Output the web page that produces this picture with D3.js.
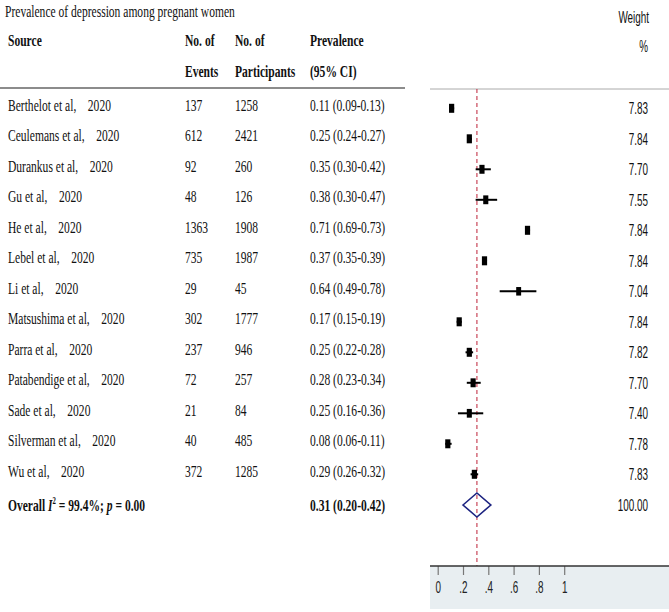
<!DOCTYPE html>
<html>
<head>
<meta charset="utf-8">
<script src="https://cdn.jsdelivr.net/npm/d3@7"></script>
<style>
  html, body { margin: 0; padding: 0; background: #fff; }
  svg { display: block; }
</style>
</head>
<body>
<svg id="chart" width="669" height="612"></svg>
<script>
// ---------------- data ----------------
const sources = ["Berthelot et al,", "Ceulemans et al,", "Durankus et al,", "Gu et al,", "He et al,", "Lebel et al,", "Li et al,", "Matsushima et al,", "Parra et al,", "Patabendige et al,", "Sade et al,", "Silverman et al,", "Wu et al,"];
const years = ["2020", "2020", "2020", "2020", "2020", "2020", "2020", "2020", "2020", "2020", "2020", "2020", "2020"];
const events = [137, 612, 92, 48, 1363, 735, 29, 302, 237, 72, 21, 40, 372];
const participants = [1258, 2421, 260, 126, 1908, 1987, 45, 1777, 946, 257, 84, 485, 1285];
const prevalence = [0.11, 0.25, 0.35, 0.38, 0.71, 0.37, 0.64, 0.17, 0.25, 0.28, 0.25, 0.08, 0.29];
const ciLow = [0.09, 0.24, 0.30, 0.30, 0.69, 0.35, 0.49, 0.15, 0.22, 0.23, 0.16, 0.06, 0.26];
const ciHigh = [0.13, 0.27, 0.42, 0.47, 0.73, 0.39, 0.78, 0.19, 0.28, 0.34, 0.36, 0.11, 0.32];
const weights = ["7.83", "7.84", "7.70", "7.55", "7.84", "7.84", "7.04", "7.84", "7.82", "7.70", "7.40", "7.78", "7.83"];
const overall = [0.31, 0.20, 0.42];
const overallWeight = "100.00";
const tickValues = [0, 0.2, 0.4, 0.6, 0.8, 1];
const tickLabels = ["0", ".2", ".4", ".6", ".8", "1"];

// ---------------- layout ----------------
const svg = d3.select("#chart");
const SERIF = "'Liberation Serif', 'Times New Roman', serif";
const SANS = "'Liberation Sans', Arial, sans-serif";
const SX_SERIF = 0.68, SX_SANS = 0.6;

const x = d3.scaleLinear().domain([0, 1]).range([437.7, 564.2]);
const y = d3.scaleLinear().domain([0, sources.length - 1]).range([108.3, 474.3]);
const yOverall = 505;
const plotTop = 89, axisY = 566;

function txt(parent, px, py, str, o = {}) {
  const t = parent.append("text")
    .attr("transform", `translate(${px},${py}) scale(${o.sx || SX_SERIF},1)`)
    .attr("font-family", o.font || SERIF)
    .attr("font-size", o.size || 17)
    .attr("font-weight", o.bold ? "bold" : "normal")
    .attr("text-anchor", o.anchor || "start")
    .attr("fill", o.fill || "#111");
  if (str !== null) t.text(str);
  return t;
}

// grey axis panel
svg.append("rect").attr("x", 430).attr("y", axisY).attr("width", 239).attr("height", 43).attr("fill", "#e8eef1");

// top rules
svg.append("line").attr("x1", 0).attr("x2", 405).attr("y1", 88).attr("y2", 88).attr("stroke", "#666").attr("stroke-width", 1.4);
svg.append("line").attr("x1", 430).attr("x2", 669).attr("y1", plotTop).attr("y2", plotTop).attr("stroke", "#aaa").attr("stroke-width", 1);

// header texts
txt(svg, 5, 17, "Prevalence of depression among pregnant women");
txt(svg, 8, 46, "Source", { bold: true });
txt(svg, 185, 46, "No. of", { bold: true });
txt(svg, 235, 46, "No. of", { bold: true });
txt(svg, 310, 46, "Prevalence", { bold: true });
txt(svg, 185, 77, "Events", { bold: true });
txt(svg, 235, 77, "Participants", { bold: true });
txt(svg, 310, 77, "(95% CI)", { bold: true });
txt(svg, 649, 23, "Weight", { font: SANS, sx: SX_SANS, anchor: "end", size: 16.5 });
txt(svg, 648, 51.5, "%", { font: SANS, sx: SX_SANS, anchor: "end", size: 16.5 });

// table rows
const fmt2 = d3.format(".2f");
sources.forEach((s, i) => {
  const by = y(i) + 2.6;
  const t = txt(svg, 8, by, s);
  t.append("tspan").attr("dx", 17).text(years[i]);
  txt(svg, 185, by, String(events[i]));
  txt(svg, 235, by, String(participants[i]));
  txt(svg, 310, by, `${fmt2(prevalence[i])} (${fmt2(ciLow[i])}-${fmt2(ciHigh[i])})`);
  txt(svg, 648, y(i) + 6, weights[i], { font: SANS, sx: SX_SANS, anchor: "end", size: 16.5 });
});

// overall row
const ov = txt(svg, 8, yOverall + 5.5, null, { bold: true });
ov.append("tspan").text("Overall ");
ov.append("tspan").attr("font-style", "italic").text("I");
ov.append("tspan").attr("font-size", 10).attr("dy", -7).text("2");
ov.append("tspan").attr("dy", 7).text(" = 99.4%; ");
ov.append("tspan").attr("font-style", "italic").text("p");
ov.append("tspan").text(" = 0.00");
txt(svg, 310, yOverall + 5.5, `${fmt2(overall[0])} (${fmt2(overall[1])}-${fmt2(overall[2])})`, { bold: true });
txt(svg, 648, yOverall + 6, overallWeight, { font: SANS, sx: SX_SANS, anchor: "end", size: 16.5 });

// overall dashed line
svg.append("line")
  .attr("x1", x(overall[0])).attr("x2", x(overall[0]))
  .attr("y1", plotTop).attr("y2", axisY)
  .attr("stroke", "#c4364a").attr("stroke-width", 1.1).attr("stroke-dasharray", "4,3");

// CI lines
svg.append("g").selectAll("line").data(prevalence).join("line")
  .attr("x1", (d, i) => x(ciLow[i])).attr("x2", (d, i) => x(ciHigh[i]))
  .attr("y1", (d, i) => y(i)).attr("y2", (d, i) => y(i))
  .attr("stroke", "#000").attr("stroke-width", 2);

// weight boxes
svg.append("g").selectAll("rect").data(prevalence).join("rect")
  .each(function (d, i) {
    const k = Math.sqrt(+weights[i] / 7.84);
    const w = 5.2 * k, h = 9 * k;
    d3.select(this).attr("x", x(d) - w / 2).attr("y", y(i) - h / 2).attr("width", w).attr("height", h);
  })
  .attr("fill", "#000");

// overall diamond
const dh = 12;
svg.append("path")
  .attr("d", `M${x(overall[1])},${yOverall} L${x(overall[0])},${yOverall - dh} L${x(overall[2])},${yOverall} L${x(overall[0])},${yOverall + dh} Z`)
  .attr("fill", "none").attr("stroke", "#1c2380").attr("stroke-width", 1.6);

// axis
const axis = d3.axisBottom(x).tickValues(tickValues).tickFormat((d, i) => tickLabels[i]).tickSize(9).tickSizeOuter(0);
const ag = svg.append("g").attr("transform", `translate(0,${axisY})`).call(axis);
ag.select(".domain").remove();
ag.selectAll(".tick line").attr("stroke", "#777").attr("stroke-width", 1.2);
ag.selectAll(".tick text")
  .attr("y", 0).attr("dy", 0)
  .attr("transform", `translate(0,27) scale(${SX_SANS},1)`)
  .attr("font-family", SANS).attr("font-size", 16.5).attr("fill", "#222");
svg.append("line").attr("x1", 430).attr("x2", 669).attr("y1", axisY).attr("y2", axisY).attr("stroke", "#333").attr("stroke-width", 1.3);
</script>
</body>
</html>
